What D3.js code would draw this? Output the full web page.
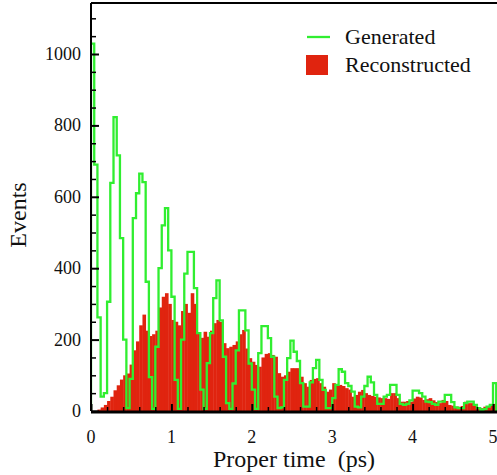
<!DOCTYPE html>
<html>
<head>
<meta charset="utf-8">
<script src="https://cdn.jsdelivr.net/npm/d3@7"></script>
<style>
  html, body { margin: 0; padding: 0; background: #fff; }
  svg { display: block; }
  text { font-family: "Liberation Serif", "DejaVu Serif", serif; fill: #111; }
</style>
</head>
<body>
<svg id="chart" width="497" height="475"></svg>
<script>
// ---- data ----
const binWidth = 0.04; // ps
const generated = [
  1029, 690, 262, 40, 50, 306, 639, 823, 716, 484,
  200, 8, 90, 540, 610, 665, 641, 362, 95, 6,
  180, 400, 520, 568, 450, 320, 87, 6, 200, 385,
  446, 446, 344, 218, 60, 6, 134, 218, 316, 366,
  254, 152, 22, 6, 77, 170, 282, 282, 226, 133,
  60, 6, 162, 238, 238, 204, 152, 40, 8, 10,
  87, 148, 197, 166, 140, 78, 12, 12, 80, 120,
  143, 87, 59, 8, 8, 36, 73, 117, 110, 78,
  70, 54, 12, 10, 40, 70, 96, 80, 45, 20,
  20, 40, 45, 73, 73, 45, 20, 17, 20, 30,
  57, 57, 50, 40, 26, 25, 20, 17, 26, 26,
  45, 45, 25, 10, 8, 8, 22, 26, 26, 17,
  8, 3, 5, 12, 17, 78
];
const reconstructed = [
  0, 0, 4, 10, 17, 28, 40, 58, 72, 88,
  100, 105, 130, 170, 195, 240, 270, 225, 210, 215,
  225, 290, 320, 330, 300, 255, 250, 240, 280, 300,
  275, 330, 300, 220, 205, 222, 208, 225, 246, 255,
  250, 190, 176, 180, 185, 195, 215, 227, 175, 148,
  138, 129, 124, 150, 160, 162, 157, 152, 106, 96,
  100, 110, 120, 120, 120, 96, 78, 68, 87, 90,
  92, 78, 68, 54, 60, 78, 73, 73, 70, 64,
  60, 40, 45, 54, 59, 50, 45, 42, 40, 38,
  36, 36, 34, 50, 50, 36, 26, 26, 28, 26,
  35, 40, 38, 31, 33, 36, 30, 25, 22, 31,
  28, 17, 15, 12, 12, 14, 26, 22, 22, 15,
  8, 8, 12, 14, 17, 20
];
const xTicks = [0, 1, 2, 3, 4, 5];
const yTicks = [0, 200, 400, 600, 800, 1000];
const seriesNames = ["Generated", "Reconstructed"];

// ---- layout ----
const svg = d3.select("#chart");
const mLeft = 91, mBottom = 411, mTop = 3, mRight = 497;
const x = d3.scaleLinear().domain([0, 5]).range([mLeft, 493]);
const y = d3.scaleLinear().domain([0, 1000]).range([mBottom, 54]);
const green = "#30ee30", red = "#e0240f";

svg.append("defs").append("clipPath").attr("id", "plot")
  .append("rect").attr("x", mLeft).attr("y", mTop).attr("width", mRight - mLeft).attr("height", mBottom - mTop);

const g = svg.append("g").attr("clip-path", "url(#plot)");

// reconstructed filled bars
g.selectAll("rect.rec").data(reconstructed).join("rect")
  .attr("class", "rec")
  .attr("x", (d, i) => x(i * binWidth))
  .attr("width", (d, i) => x((i + 1) * binWidth) - x(i * binWidth) + 0.4)
  .attr("y", d => y(d))
  .attr("height", d => y(0) - y(d))
  .attr("fill", red);

// generated step outline
const pts = [[0, 0]];
generated.forEach((v, i) => pts.push([i * binWidth, v]));
pts.push([generated.length * binWidth, 0]);
const line = d3.line().x(d => x(d[0])).y(d => y(d[1])).curve(d3.curveStepAfter);
g.append("path").attr("d", line(pts))
  .attr("fill", "none").attr("stroke", green).attr("stroke-width", 2.3);

// frame
svg.append("line").attr("x1", mLeft).attr("x2", mRight).attr("y1", mTop).attr("y2", mTop)
  .attr("stroke", "#000").attr("stroke-width", 2);
svg.append("line").attr("x1", mLeft).attr("x2", mLeft).attr("y1", mTop).attr("y2", mBottom)
  .attr("stroke", "#000").attr("stroke-width", 2);
svg.append("line").attr("x1", mLeft).attr("x2", mRight).attr("y1", mBottom + 1).attr("y2", mBottom + 1)
  .attr("stroke", "#000").attr("stroke-width", 3);

// y axis (ticks inward)
const yAxis = svg.append("g").attr("transform", `translate(${mLeft},0)`)
  .call(d3.axisRight(y).tickValues(yTicks).tickSize(8).tickFormat(""));
yAxis.select(".domain").remove();
yAxis.selectAll("line").attr("stroke", "#000").attr("stroke-width", 2);
const yMinor = svg.append("g").attr("transform", `translate(${mLeft},0)`)
  .call(d3.axisRight(y).tickValues(d3.range(50, 1150, 50).filter(v => v % 200 !== 0)).tickSize(5).tickFormat(""));
yMinor.select(".domain").remove();
yMinor.selectAll("line").attr("stroke", "#000").attr("stroke-width", 1.5);
svg.append("g").selectAll("text").data(yTicks).join("text")
  .attr("x", 81).attr("y", d => y(d) + 6)
  .attr("text-anchor", "end").attr("font-size", 18).text(d => d);

// x axis (ticks inward)
const xAxis = svg.append("g").attr("transform", `translate(0,${mBottom})`)
  .call(d3.axisTop(x).tickValues(xTicks).tickSize(7).tickFormat(""));
xAxis.select(".domain").remove();
xAxis.selectAll("line").attr("stroke", "#000").attr("stroke-width", 2);
const xMinor = svg.append("g").attr("transform", `translate(0,${mBottom})`)
  .call(d3.axisTop(x).tickValues(d3.range(0.2, 5.0, 0.2).filter(v => Math.abs(v - Math.round(v)) > 0.01)).tickSize(4).tickFormat(""));
xMinor.select(".domain").remove();
xMinor.selectAll("line").attr("stroke", "#000").attr("stroke-width", 1.5);
svg.append("g").selectAll("text").data(xTicks).join("text")
  .attr("x", d => x(d)).attr("y", 443)
  .attr("text-anchor", "middle").attr("font-size", 18).text(d => d);

// axis titles
svg.append("text").attr("x", 294).attr("y", 467).attr("text-anchor", "middle")
  .attr("font-size", 24).text("Proper time\u00a0\u00a0(ps)");
svg.append("text").attr("transform", "translate(26,215) rotate(-90)").attr("text-anchor", "middle")
  .attr("font-size", 24).text("Events");

// legend
svg.append("line").attr("x1", 307).attr("x2", 330).attr("y1", 37).attr("y2", 37)
  .attr("stroke", green).attr("stroke-width", 2.3);
svg.append("rect").attr("x", 306).attr("y", 55).attr("width", 22).attr("height", 20).attr("fill", red);
svg.append("text").attr("x", 345).attr("y", 44).attr("font-size", 22).text(seriesNames[0]);
svg.append("text").attr("x", 345).attr("y", 72).attr("font-size", 22).text(seriesNames[1]);
</script>
</body>
</html>
